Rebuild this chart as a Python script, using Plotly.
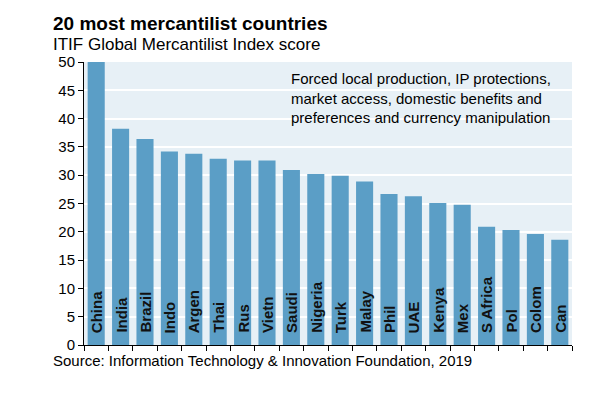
import plotly.graph_objects as go

countries = ["China", "India", "Brazil", "Indo", "Argen", "Thai", "Rus", "Vietn", "Saudi", "Nigeria",
             "Turk", "Malay", "Phil", "UAE", "Kenya", "Mex", "S Africa", "Pol", "Colom", "Can"]
scores = [50.0, 38.2, 36.4, 34.2, 33.8, 32.9, 32.6, 32.6, 30.9, 30.2,
          29.9, 28.9, 26.7, 26.3, 25.1, 24.8, 20.9, 20.3, 19.6, 18.6]
y_ticks = [0, 5, 10, 15, 20, 25, 30, 35, 40, 45, 50]

FONT = "Arial, Liberation Sans, sans-serif"
# page has an 8px body margin; figure is sized to fit inside the window
OFF = 8
W, H = 592, 383
PL, PR, PT, PB = 84, 572, 62, 345  # plot area in page pixels
L, T = PL - OFF, PT - OFF
R = OFF + W - PR
B = OFF + H - PB
pw, ph = PR - PL, PB - PT

def px_x(x):
    return (x - PL) / pw

def px_y(y):
    return (PB - y) / ph

fig = go.Figure(go.Bar(
    x=countries, y=scores,
    marker=dict(color="#5b9ec6", line=dict(width=0)),
    hoverinfo="x+y",
))

annotations = []
for c in countries:
    annotations.append(dict(
        x=c, y=0, xref="x", yref="y", text="<b>%s</b>" % c, textangle=-90,
        showarrow=False, xanchor="center", yanchor="bottom", yshift=10,
        font=dict(family=FONT, size=15, color="#111111"),
    ))

annotations += [
    dict(x=px_x(51), y=px_y(23.5), xref="paper", yref="paper", xanchor="left", yanchor="middle",
         text="<b>20 most mercantilist countries</b>", showarrow=False,
         font=dict(family=FONT, size=19, color="#000000")),
    dict(x=px_x(51), y=px_y(44.5), xref="paper", yref="paper", xanchor="left", yanchor="middle",
         text="ITIF Global Mercantilist Index score", showarrow=False,
         font=dict(family=FONT, size=17, color="#000000")),
    dict(x=px_x(51), y=px_y(360), xref="paper", yref="paper", xanchor="left", yanchor="middle",
         text="Source: Information Technology &amp; Innovation Foundation, 2019", showarrow=False,
         font=dict(family=FONT, size=15, color="#000000")),
    dict(x=px_x(289), y=px_y(98), xref="paper", yref="paper", xanchor="left", yanchor="middle",
         align="left", showarrow=False,
         text="Forced local production, IP protections,<br>market access, domestic benefits and<br>preferences and currency manipulation",
         font=dict(family=FONT, size=15, color="#000000")),
]

fig.update_layout(
    width=W, height=H,
    margin=dict(l=L, r=R, t=T, b=B, pad=0),
    paper_bgcolor="white",
    plot_bgcolor="#e7f0f6",
    bargap=0.3,
    showlegend=False,
    annotations=annotations,
    font=dict(family=FONT, size=15, color="#000000"),
    xaxis=dict(
        showticklabels=False, ticks="outside", tickson="boundaries", ticklen=5,
        tickcolor="#000000", showline=True, linecolor="#000000", linewidth=1,
        showgrid=False, zeroline=False,
    ),
    yaxis=dict(
        range=[0, 50], tickvals=y_ticks, ticks="outside", ticklen=5, tickcolor="#000000",
        showline=True, linecolor="#000000", linewidth=1,
        showgrid=True, gridcolor="#ffffff", gridwidth=1.5, zeroline=False,
        tickfont=dict(family=FONT, size=15, color="#000000"),
    ),
)

fig.write_html("out.html")
